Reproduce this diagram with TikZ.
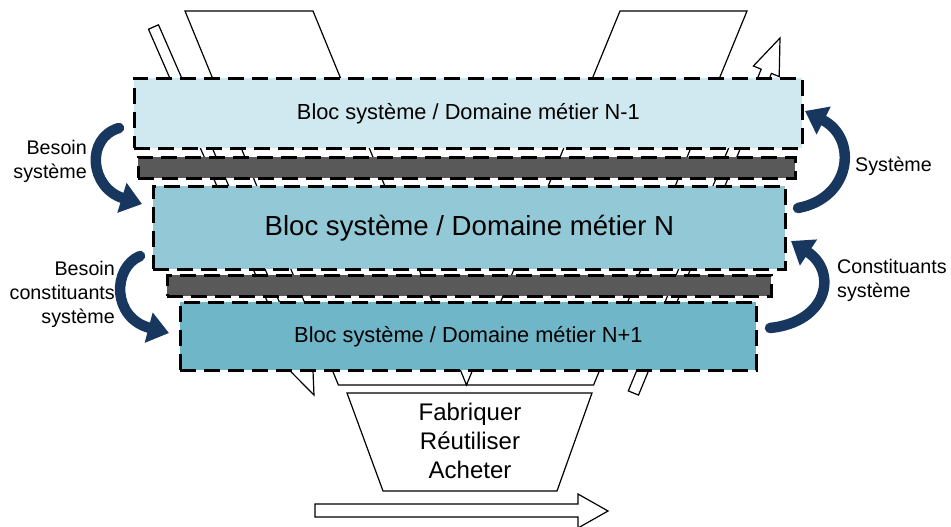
\documentclass[tikz,border=0pt]{standalone}
\usepackage{fontspec}
\setmainfont{Liberation Sans}
\usetikzlibrary{arrows.meta}

\definecolor{paleblue}{RGB}{208,232,239}
\definecolor{midblue}{RGB}{147,201,214}
\definecolor{deepblue}{RGB}{111,182,200}
\definecolor{bargrey}{RGB}{89,89,89}
\definecolor{navy}{RGB}{23,55,94}

\tikzset{
  outline/.style={draw=black, line width=1.2pt, fill=white, line join=miter},
  layer/.style={draw=black, line width=2.8pt, dash pattern=on 16pt off 8pt,
                inner sep=0pt, anchor=north west},
  flowarrow/.style={draw=navy, line width=10.5pt, line cap=round,
                    -{Triangle[length=21pt,width=30pt]}},
  lbl/.style={font=\fontsize{19.7}{24}\selectfont, inner sep=0pt}
}

\begin{document}
\begin{tikzpicture}[x=1pt,y=-1pt]
\useasboundingbox (0,0) rectangle (951,527);

% background: two converging arms merging into one funnel
\draw[outline] (185,11) -- (313,11) -- (466.5,385) -- (620,11) -- (747,11)
  -- (593.6,385) -- (338.4,385) -- cycle;
% thin arrow going down on the left
\draw[outline] (148.5,29.2) -- (158.5,24.8) -- (304.6,359.8) -- (312.4,356.4)
  -- (314,395) -- (286.8,367.6) -- (294.6,364.2) -- cycle;
% thin arrow going up on the right
\draw[outline] (628.3,390.9) -- (761.2,69.2) -- (753.4,66.0) -- (780,38)
  -- (779.2,76.6) -- (771.4,73.4) -- (638.5,395.1) -- cycle;

% outcome trapezium
\draw[outline] (347,393) -- (592,393) -- (557,491) -- (383,491) -- cycle;
\node[align=center, inner sep=0pt, font=\fontsize{24}{29}\selectfont]
  (make) at (470,441) {Fabriquer\\Réutiliser\\Acheter};

% time arrow
\draw[outline] (315,504) -- (578,504) -- (578,494) -- (608,511) -- (578,528)
  -- (578,517) -- (315,517) -- cycle;

% layers
\node[layer, fill=paleblue, minimum width=668pt, minimum height=70pt,
      font=\fontsize{21.8}{26}\selectfont] (up) at (133,77)
  {Bloc système / Domaine métier N-1};
\node[layer, fill=bargrey, minimum width=657pt, minimum height=21pt] (bar1) at (137,156) {};
\node[layer, fill=midblue, minimum width=632pt, minimum height=83pt,
      font=\fontsize{27.6}{32}\selectfont] (mid) at (152,185)
  {Bloc système / Domaine métier N};
\node[layer, fill=bargrey, minimum width=604pt, minimum height=21pt] (bar2) at (166,274) {};
\node[layer, fill=deepblue, minimum width=576pt, minimum height=68pt,
      font=\fontsize{21.8}{26}\selectfont] (low) at (179,301)
  {Bloc système / Domaine métier N+1};

% curved flow arrows
\coordinate (a1s) at (119,128);  \coordinate (a1e) at (142,204);
\coordinate (a2s) at (140,256);  \coordinate (a2e) at (169,333);
\coordinate (a3s) at (798,208);  \coordinate (a3e) at (805,111);
\coordinate (a4s) at (770,328);  \coordinate (a4e) at (791,241);
\draw[flowarrow] (a1s) .. controls (85,138) and (90,188) .. (a1e);
\draw[flowarrow] (a2s) .. controls (112,268) and (112,318) .. (a2e);
\draw[flowarrow] (a3s) .. controls (852,198) and (858,138) .. (a3e);
\draw[flowarrow] (a4s) .. controls (828,322) and (838,272) .. (a4e);

% labels
\node[lbl, align=right, anchor=east] (l1) at (87,161) {Besoin\\système};
\node[lbl, align=right, anchor=east] (l2) at (115,294) {Besoin\\constituants\\système};
\node[lbl, anchor=west] (l3) at (855,166) {Système};
\node[lbl, align=left, anchor=west] (l4) at (837,280) {Constituants\\système};
\end{tikzpicture}
\end{document}
